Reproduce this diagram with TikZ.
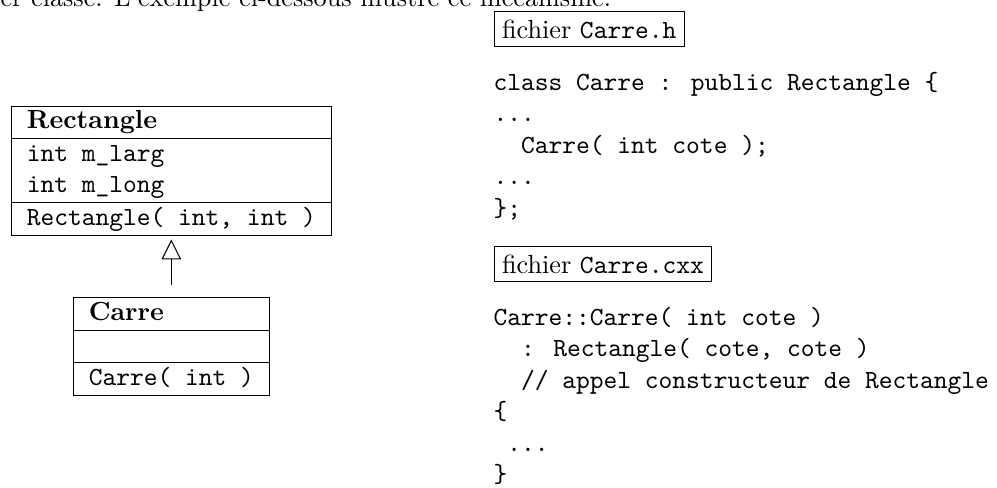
\documentclass[tikz,border=0pt]{standalone}
\usetikzlibrary{arrows.meta}
\begin{document}
\begin{tikzpicture}[x=1pt,y=-1pt,
  code/.style={anchor=base west, inner sep=0pt, font=\ttfamily},
  filebox/.style={draw, line width=0.4pt, inner sep=3pt, anchor=base west},
  umlclass/.style={inner sep=0pt, anchor=north},
  inherit/.style={line width=0.4pt, -{Triangle[open,length=7.6pt,width=7.5pt]}, shorten >=1.3pt, shorten <=4.4pt}]
\useasboundingbox (0,0) rectangle (380.5,185.9);
\clip (0,0) rectangle (380.5,185.9);
\node[anchor=base west, inner sep=0pt] (intro) at (0,2.5) {er classe. L'exemple ci-dessous illustre ce mécanisme.};
% UML classes
\node[umlclass] (rect) at (65.4,40.1) {\begin{tabular}{|l|}\hline \textbf{Rectangle}\\\hline \texttt{int m\_larg}\\ \texttt{int m\_long}\\\hline \texttt{Rectangle( int, int )}\\\hline\end{tabular}};
\node[umlclass] (carre) at (65.4,113.2) {\begin{tabular}{|l|}\hline \textbf{Carre}\\\hline \\\hline \texttt{Carre( int )}\\\hline\end{tabular}};
\draw[inherit] (carre) -- (rect);
% header file
\node[filebox] (hfile) at (188.4,14.5) {fichier \texttt{Carre.h}};
\node[code] (h1) at (188.2,34.5) {class Carre : public Rectangle \{};
\node[code] (h2) at (188.2,46.5) {...};
\node[code] (h3) at (198.7,58.5) {Carre( int cote );};
\node[code] (h4) at (188.2,70.5) {...};
\node[code] (h5) at (188.2,82.5) {\};};
% implementation file
\node[filebox] (cxxfile) at (188.4,104.2) {fichier \texttt{Carre.cxx}};
\node[code] (c1) at (188.2,124.2) {Carre::Carre( int cote )};
\node[code] (c2) at (198.7,136.2) {: Rectangle( cote, cote )};
\node[code] (c3) at (198.7,148.2) {// appel constructeur de Rectangle};
\node[code] (c4) at (188.2,160.2) {\{};
\node[code] (c5) at (193.45,172.2) {...};
\node[code] (c6) at (188.2,184.2) {\}};
\end{tikzpicture}
\end{document}
